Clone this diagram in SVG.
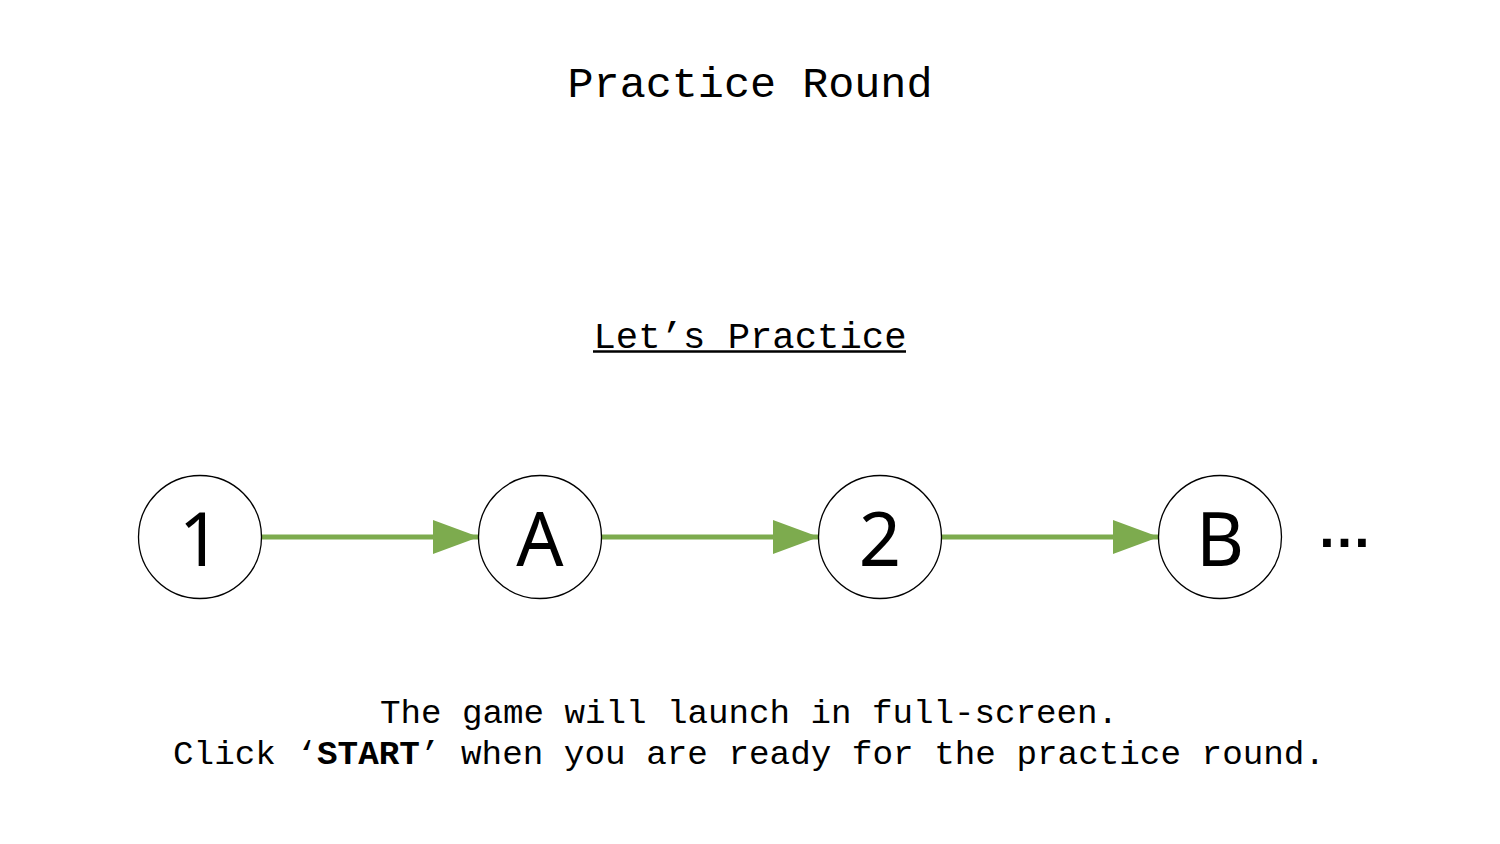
<svg xmlns="http://www.w3.org/2000/svg" width="1500" height="844" viewBox="0 0 1500 844">
<style>
.mono{font-family:"Liberation Mono","DejaVu Sans Mono",monospace;fill:#000}
.node circle{fill:#fff;stroke:#000;stroke-width:1.3}
.node text{font-family:"Noto Sans","Open Sans",sans-serif;font-size:74px;fill:#000;text-anchor:middle}
.conn line{stroke:#7dab4e;stroke-width:5}
</style>
<defs>
<marker id="arr" markerUnits="userSpaceOnUse" markerWidth="46" markerHeight="34" refX="45" refY="17" orient="auto">
<path d="M0,0 L46,17 L0,34 Z" fill="#7dab4e"/>
</marker>
</defs>
<rect width="1500" height="844" fill="#fff"/>
<text class="mono" x="750" y="97" font-size="43" text-anchor="middle" textLength="365" lengthAdjust="spacingAndGlyphs">Practice Round</text>
<text class="mono" x="750" y="348" font-size="37" text-anchor="middle" textLength="313" lengthAdjust="spacingAndGlyphs">Let’s Practice</text>
<line x1="593" y1="351.5" x2="906" y2="351.5" stroke="#000" stroke-width="2.5"/>
<g class="conn">
<line x1="262" y1="537" x2="478" y2="537" marker-end="url(#arr)"/>
<line x1="602" y1="537" x2="818" y2="537" marker-end="url(#arr)"/>
<line x1="942" y1="537" x2="1158" y2="537" marker-end="url(#arr)"/>
</g>
<g id="n1" class="node"><circle cx="200" cy="537" r="61.5"/><text x="200" y="566">1</text></g>
<g id="nA" class="node"><circle cx="540" cy="537" r="61.5"/><text x="540" y="566">A</text></g>
<g id="n2" class="node"><circle cx="880" cy="537" r="61.5"/><text x="880" y="566">2</text></g>
<g id="nB" class="node"><circle cx="1220" cy="537" r="61.5"/><text x="1220" y="566">B</text></g>
<text x="1317" y="547" font-family="Liberation Sans,sans-serif" font-size="55" font-weight="bold" fill="#000">…</text>
<text class="mono" x="749" y="723" font-size="34" text-anchor="middle" textLength="738" lengthAdjust="spacingAndGlyphs">The game will launch in full-screen.</text>
<text class="mono" x="749" y="764" font-size="34" text-anchor="middle" textLength="1152" lengthAdjust="spacingAndGlyphs">Click ‘<tspan font-weight="bold">START</tspan>’ when you are ready for the practice round.</text>
</svg>
